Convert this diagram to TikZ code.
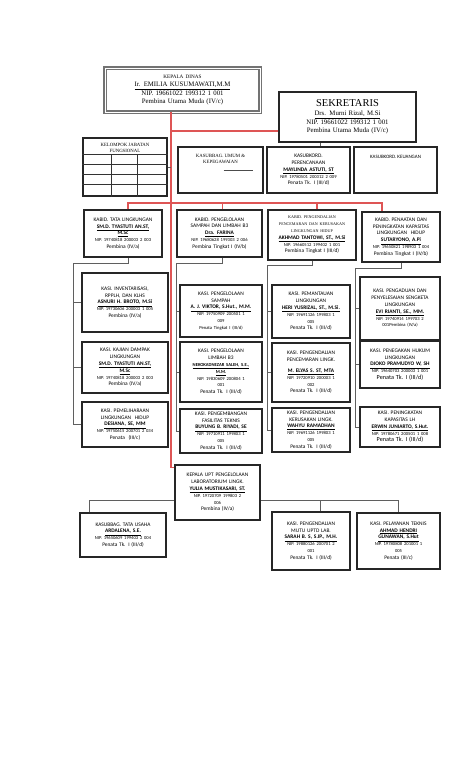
\documentclass[tikz,border=0pt]{standalone}
\usepackage{fontspec}
\setmainfont{Carlito}
\newfontfamily\judul{Liberation Serif}
\usetikzlibrary{positioning}
\definecolor{garismerah}{RGB}{222,85,85}
\definecolor{garisabu}{RGB}{95,95,95}
\newcommand{\nm}[1]{\underline{\textbf{#1}}}
\newcommand{\nip}{\fontsize{4.6}{6.8}\selectfont}
\newcommand{\kecil}{\judul\fontsize{4.1}{6.8}\selectfont}
\tikzset{
  jabatan/.style={
    % The shape:
    shape=rectangle,
    % The border:
    draw=black!85, line width=1.4pt,
    % The text:
    align=center, inner xsep=0pt, inner ysep=1pt,
    font=\fontsize{5.4}{6.8}\selectfont
  },
  ukuran/.style 2 args={minimum width=#1pt, text width=#1pt, minimum height=#2pt},
  pimpinan/.style={
    jabatan,
    draw=black!55, double=white, double distance=.8pt, line width=1.2pt,
    font=\judul\fontsize{6.8}{8.6}\selectfont
  },
  kepala/.style={below=#1, align=center, font=\judul\fontsize{4.8}{6.4}\selectfont},
  garis/.style={draw=garismerah, line width=1.1pt},
  hubung/.style={draw=garisabu, line width=.9pt}
}

\begin{document}
\begin{tikzpicture}[x=1pt,y=-1pt]
\useasboundingbox (0,0) rectangle (474,780);

% pimpinan
\node[pimpinan, ukuran={155}{44}] (kadis) at (182.5,90)
  {{\fontsize{5.2}{8}\selectfont KEPALA DINAS}\\ \underline{Ir. EMILIA KUSUMAWATI,M.M}\\ NIP. 19661022 199312 1 001\\ Pembina Utama Muda (IV/c)};
\node[jabatan, ukuran={137}{50}, font=\judul\fontsize{6.8}{8.8}\selectfont] (sekre) at (347.5,117)
  {{\fontsize{10.5}{12}\selectfont SEKRETARIS}\\ \underline{Drs. Murni Rizal, M.Si}\\ NIP. 19661022 199312 1 001\\ Pembina Utama Muda (IV/c)};

% sekretariat
\node[jabatan, ukuran={84}{58}, label={[kepala=2pt]north:KELOMPOK JABATAN\\ FUNGSIONAL}] (jaf) at (125,167) {};
\node[jabatan, ukuran={85}{46}, label={[kepala=4pt]north:KASUBBAG. UMUM \&\\ KEPEGAWAIAN}] (ksumum) at (220.5,170) {};
\node[jabatan, ukuran={83}{46}] (kkrenc) at (308.5,170)
  {KASUBKORD.\\ PERENCANAAN\\ \nm{MAYLINDA ASTUTI, ST}\\ {\nip NIP. 19780501 200312 2 009}\\ Penata Tk. I (III/d)};
\node[jabatan, ukuran={83}{46}, label={[below=5pt, font=\fontsize{5}{6}\selectfont]north:KASUBKORD. KEUANGAN}] (kkuang) at (395.5,170) {};

% kabid
\node[jabatan, ukuran={78}{47}] (kbtata) at (123,233.5)
  {KABID. TATA LINGKUNGAN\\ \nm{SM.D. TYASTUTI AN.ST,}\\ \nm{M.Sc}\\ {\nip NIP. 19740818 200003 2 003}\\ Pembina (IV/a)};
\node[jabatan, ukuran={85}{47}] (kbolah) at (219.5,233.5)
  {KABID. PENGELOLAAN\\ SAMPAH DAN LIMBAH B3\\ \nm{Dra. FARINA}\\ {\nip NIP. 19680628 199303 2 006}\\ Pembina Tingkat I (IV/b)};
\node[jabatan, ukuran={88}{50}] (kbdali) at (312,235)
  {{\kecil KABID. PENGENDALIAN}\\ {\kecil PENCEMARAN DAN KERUSAKAN}\\ {\kecil LINGKUNGAN HIDUP}\\ \nm{AKHMAD TANTOWI, ST., M.Si}\\ {\nip NIP. 19660512 199402 1 001}\\ Pembina Tingkat I (III/d)};
\node[jabatan, ukuran={78}{50}] (kbtaat) at (401,237)
  {KABID. PENAATAN DAN\\ PENINGKATAN KAPASITAS\\ LINGKUNGAN\ \ HIDUP\\ \nm{SUTARYONO, A.Pi}\\ {\nip NIP. 19650821 198903 1 004}\\ Pembina Tingkat I (IV/b)};

% kasi bidang tata lingkungan
\node[jabatan, ukuran={86}{59}] (ks11) at (125,302.5)
  {KASI. INVENTARISASI,\\ RPPLH, DAN KLHS\\ \nm{ASNURI H. BROTO, M.Si}\\ {\nip NIP. 19730606 200003 1 005}\\ Pembina (IV/a)};
\node[jabatan, ukuran={86}{51}] (ks12) at (125,367.5)
  {KASI. KAJIAN DAMPAK\\ LINGKUNGAN\\ \nm{SM.D. TYASTUTI AN.ST,}\\ \nm{M.Sc}\\ {\nip NIP. 19740818 200003 2 003}\\ Pembina (IV/a)};
\node[jabatan, ukuran={86}{45}] (ks13) at (125,424.5)
  {KASI. PEMELIHARAAN\\ LINGKUNGAN\ \ HIDUP\\ \nm{DESIANA, SE, MM}\\ {\nip NIP. 19750615 200701 2 034}\\ Penata\ \ (III/c)};

% kasi bidang pengelolaan sampah
\node[jabatan, ukuran={82}{52}] (ks21) at (221,311)
  {KASI. PENGELOLAAN\\ SAMPAH\\ \nm{A. J. VIKTOR, S.Hut., M.M.}\\ {\nip NIP. 19750909 200501 1}\\ {\nip 009}\\ {\nip Penata Tingkat I (III/d)}};
\node[jabatan, ukuran={82}{60}] (ks22) at (221,372)
  {KASI. PENGELOLAAN\\ LIMBAH B3\\ {\nip\nm{NEKOKADNEZAR SALEH, S.E.,}}\\ {\nip\nm{M.M.}}\\ {\nip NIP. 19830609 200804 1}\\ {\nip 001}\\ Penata Tk. I (III/d)};
\node[jabatan, ukuran={82}{44}] (ks23) at (221,431)
  {KASI. PENGEMBANGAN\\ FASILITAS TEKNIS\\ \nm{BUYUNG B. RIYADI, SE}\\ {\nip NIP. 19710911 199803 1}\\ {\nip 005}\\ Penata Tk. I (III/d)};

% kasi bidang pengendalian
\node[jabatan, ukuran={78}{53}] (ks31) at (311,311.5)
  {KASI. PEMANTAUAN\\ LINGKUNGAN\\ \nm{HERI YUSRIZAL, ST., M.Si.}\\ {\nip NIP. 19691126 199803 1}\\ {\nip 005}\\ Penata Tk. I (III/d)};
\node[jabatan, ukuran={78}{59}] (ks32) at (311,372.5)
  {KASI. PENGENDALIAN\\ PENCEMARAN LINGK.\\[4pt] \nm{M. ELYAS S. ST, MTA}\\ {\nip NIP. 19720910 200003 1}\\ {\nip 002}\\ Penata Tk. I (III/d)};
\node[jabatan, ukuran={78}{44}] (ks33) at (311,430)
  {KASI. PENGENDALIAN\\ KERUSAKAN LINGK.\\ \nm{WAHYU RAMADHAN}\\ {\nip NIP. 19691126 199803 1}\\ {\nip 005}\\ Penata Tk. I (III/d)};

% kasi bidang penaatan
\node[jabatan, ukuran={80}{63}] (ks41) at (400,308.5)
  {KASI. PENGADUAN DAN\\ PENYELESAIAN SENGKETA\\ LINGKUNGAN\\ \nm{EVI RIANTI, SE., MM.}\\ {\nip NIP. 19740914 199703 2}\\ {\nip 001Pembina (IV/a)}};
\node[jabatan, ukuran={80}{47}] (ks42) at (400,364.5)
  {KASI. PENEGAKAN HUKUM\\ LINGKUNGAN\\ \nm{DJOKO PRAMUDYO W, SH}\\ {\nip NIP. 19640703 200003 1 001}\\ {\fontsize{6.2}{7}\selectfont Penata Tk. I (III/d)}};
\node[jabatan, ukuran={80}{40}] (ks43) at (400,427)
  {KASI. PENINGKATAN\\ KAPASITAS LH\\ \nm{ERWIN JUNIARTO, S.Hut.}\\ {\nip NIP. 19780671 200501 1 008}\\ {\fontsize{6.2}{7}\selectfont Penata Tk. I (III/d)}};

% UPT laboratorium
\node[jabatan, ukuran={85}{55}] (upt) at (217.5,492.5)
  {KEPALA UPT PENGELOLAAN\\ LABORATORIUM LINGK.\\ \nm{YULIA MUSTIKASARI, ST.}\\ {\nip NIP. 19720709 199803 2}\\ {\nip 006}\\ Pembina (IV/a)};
\node[jabatan, ukuran={86}{44}] (kstu) at (123,535)
  {KASUBBAG. TATA USAHA\\ \nm{ARDALENA, S.E.}\\ {\nip NIP. 19650609 199403 2 004}\\ Penata Tk. I (III/d)};
\node[jabatan, ukuran={78}{58}] (ksmutu) at (311,541)
  {KASI. PENGENDALIAN\\ MUTU UPTD LAB.\\ \nm{SARAH B. S, S.IP., M.H.}\\ {\nip NIP. 19880126 200701 2}\\ {\nip 001}\\ Penata Tk. I (III/d)};
\node[jabatan, ukuran={83}{56}] (kslayan) at (398.5,541)
  {KASI. PELAYANAN TEKNIS\\ \nm{AHMAD HENDRI}\\ \nm{GUNAWAN, S.Hut}\\ {\nip NIP. 19780808 201001 1}\\ {\nip 005}\\ Penata (III/c)};

% tabel jabatan fungsional
\foreach \d in {17,27,37,47}
  \draw[black!80, line width=1pt] ([yshift=-\d pt]jaf.north west) -- ([yshift=-\d pt]jaf.north east);
\foreach \d in {29,55}
  \draw[black!80, line width=1pt] ([xshift=\d pt, yshift=-17pt]jaf.north west) -- ([xshift=\d pt]jaf.south west);
\draw[black!70, line width=.6pt] ([xshift=3pt]ksumum.center) -- ([xshift=32pt]ksumum.center);

% garis komando
\coordinate (spine) at (171,112);
\coordinate (bus) at (171,203);
\draw[garis] (kadis.south -| spine) |- ([yshift=-3pt]upt.north west);
\draw[garis] ([yshift=-14pt]sekre.west) -| (spine);
\draw[garis] ([xshift=5pt]kbtata.north) |- (bus) -| ([xshift=-19pt]kbtaat.north);
\draw[garis] ([xshift=3pt]kbolah.north) |- (bus);
\draw[garis] ([xshift=5pt]kbdali.north) |- (bus);
\draw[hubung] (jaf.east) -- (jaf.east -| spine);
\coordinate (rc) at ([xshift=12pt]kkrenc.north);
\draw[hubung] (rc) -- (rc |- sekre.south);

% garis ke kasi
\coordinate (k1) at (73,263);
\coordinate (k2) at (176,263);
\coordinate (k3) at (267,265);
\coordinate (k4) at (355,268);
\draw[hubung] ([xshift=5pt]kbtata.south) |- (k1) |- (ks13.west);
\draw[hubung] ([xshift=3pt]kbolah.south) |- (k2) |- (ks23.west);
\draw[hubung] (kbdali.south) |- (k3) |- (ks33.west);
\draw[hubung] (kbtaat.south) |- (k4) |- (ks43.west);
\foreach \n in {ks11,ks12} \draw[hubung] (k1 |- \n.west) -- (\n.west);
\foreach \n in {ks21,ks22} \draw[hubung] (k2 |- \n.west) -- (\n.west);
\foreach \n in {ks31,ks32} \draw[hubung] (k3 |- \n.west) -- (\n.west);
\foreach \n in {ks41,ks42} \draw[hubung] (k4 |- \n.west) -- (\n.west);

% garis UPT
\coordinate (ub) at ([yshift=-8pt]upt.east);
\draw[hubung] ([xshift=-34pt]kstu.north) |- ([yshift=-8pt]upt.west);
\draw[hubung] (ub) -| (kslayan.north);
\draw[hubung] ([xshift=9pt]ksmutu.north) -- ([xshift=9pt]ksmutu.north |- ub);
\end{tikzpicture}
\end{document}
